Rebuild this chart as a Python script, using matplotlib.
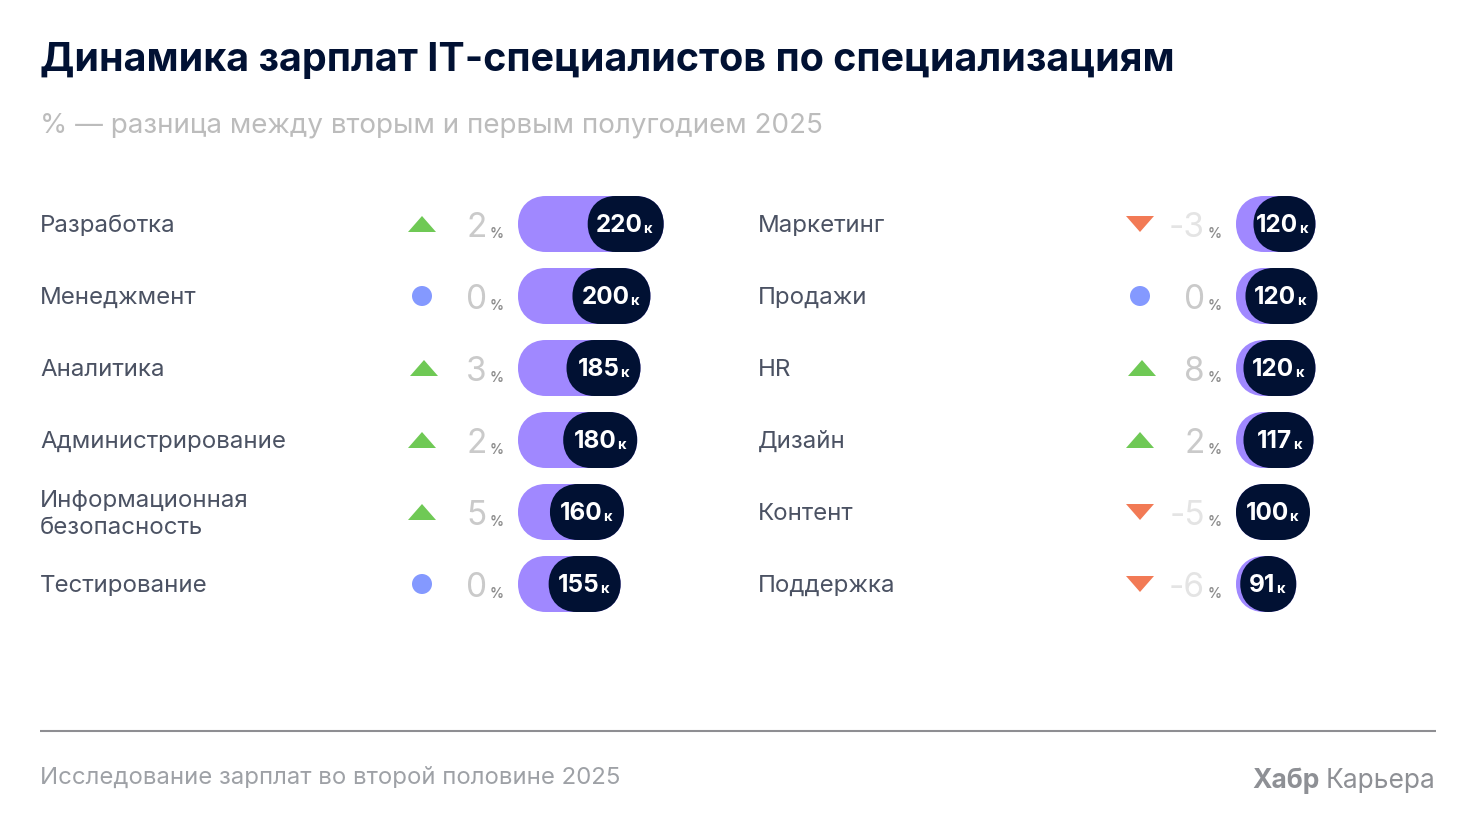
import matplotlib
matplotlib.use('Agg')
from matplotlib import pyplot as plt
from matplotlib.patches import PathPatch, Polygon, Circle
from matplotlib.path import Path

plt.rcParams['font.family'] = ['Inter', 'DejaVu Sans']

left_names = ['Разработка', 'Менеджмент', 'Аналитика', 'Администрирование',
              'Информационная\nбезопасность', 'Тестирование']
left_delta = [2, 0, 3, 2, 5, 0]
left_salary = [220, 200, 185, 180, 160, 155]
left_label_w = [76, 78, 74, 74, 74, 72]

right_names = ['Маркетинг', 'Продажи', 'HR', 'Дизайн', 'Контент', 'Поддержка']
right_delta = [-3, 0, 8, 2, -5, -6]
right_salary = [120, 120, 120, 117, 100, 91]
right_label_w = [62, 72, 72, 70, 74, 56]

PURPLE = '#a088ff'
NAVY = '#011133'
GREEN = '#6fc955'
ORANGE = '#f27a55'
BLUE = '#8499ff'
LABEL = '#4b5263'

fig = plt.figure(figsize=(14.76, 8.32), dpi=100)
ax = fig.add_axes([0, 0, 1, 1])
ax.set_xlim(0, 1476)
ax.set_ylim(832, 0)
ax.axis('off')


def pill(x0, x1, y, color, z):
    # stadium shape, corners a bit fuller than a true circle
    h = 56
    r = min(28, (x1 - x0) / 2)
    k = 0.6 * r
    t, b = y - h / 2, y + h / 2
    m = y
    verts = [(x0 + r, t), (x1 - r, t),
             (x1 - r + k, t), (x1, m - k), (x1, m),
             (x1, m + k), (x1 - r + k, b), (x1 - r, b),
             (x0 + r, b),
             (x0 + r - k, b), (x0, m + k), (x0, m),
             (x0, m - k), (x0 + r - k, t), (x0 + r, t),
             (x0 + r, t)]
    codes = [Path.MOVETO, Path.LINETO] + [Path.CURVE4] * 6 + [Path.LINETO] + [Path.CURVE4] * 6 + [Path.CLOSEPOLY]
    ax.add_patch(PathPatch(Path(verts, codes), fc=color, ec='none', zorder=z))


def draw_column(names, deltas, salary, label_w, x):
    for i, name in enumerate(names):
        y = 224 + i * 72
        ax.text(x, y + 2, name, fontsize=17.3, color=LABEL, va='center', ha='left', linespacing=1.3)

        # delta marker
        cx = x + 382
        if name in ('Аналитика', 'HR'):
            cx += 2
        d = deltas[i]
        if d > 0:
            ax.add_patch(Polygon([(cx - 14, y + 8), (cx + 14, y + 8), (cx, y - 8)], fc=GREEN, ec='none'))
        elif d < 0:
            ax.add_patch(Polygon([(cx - 14, y - 8), (cx + 14, y - 8), (cx, y + 8)], fc=ORANGE, ec='none'))
        else:
            ax.add_patch(Circle((cx, y), 10, fc=BLUE, ec='none'))

        col = '#e4e4e4' if d < 0 else '#cacaca'
        ax.text(x + 447, y + 13, str(d), fontsize=24, color=col, ha='right', va='baseline')
        ax.text(x + 450, y + 14, '%', fontsize=10, color='#8c8c8c', ha='left', va='baseline', fontweight='semibold')

        # salary bar, label pill sits on its right end
        x0 = x + 478
        x1 = x0 + salary[i] / 1.51
        right = max(x1, x0 + label_w[i])
        if name == 'Продажи':
            right += 2
        pill(x0, x1, y, PURPLE, 2)
        pill(right - label_w[i], right, y, NAVY, 3)
        tr = right - 10
        if name == 'Маркетинг':
            tr += 4
        ax.text(tr - 11, y + 8, str(salary[i]), fontsize=17.5, fontweight='bold', color='white',
                ha='right', va='baseline', zorder=4)
        ax.text(tr - 10.5, y + 9, 'к', fontsize=10.5, fontweight='bold', color='white',
                ha='left', va='baseline', zorder=4)


ax.text(40, 71, 'Динамика зарплат IT-специалистов по специализациям', fontsize=28.4,
        fontweight='bold', color=NAVY, va='baseline')
ax.text(40, 133, '% — разница между вторым и первым полугодием 2025', fontsize=20,
        color='#bcbcbc', va='baseline')

draw_column(left_names, left_delta, left_salary, left_label_w, 40)
draw_column(right_names, right_delta, right_salary, right_label_w, 758)

ax.plot([40, 1436], [731, 731], color='#8e8e92', lw=1.5, solid_capstyle='butt')
ax.text(40, 784, 'Исследование зарплат во второй половине 2025', fontsize=17.25,
        color='#9ea1a6', va='baseline')
ax.text(1435, 788, 'Карьера', fontsize=19, color='#8e9095', ha='right', va='baseline')
ax.text(1320, 788, 'Хабр', fontsize=19, fontweight='bold', color='#8e9095', ha='right', va='baseline')

plt.savefig('out.png', dpi=100)
